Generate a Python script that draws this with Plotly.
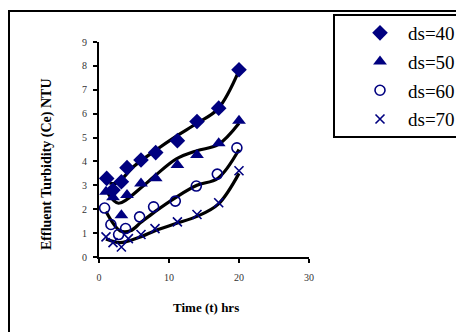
import plotly.graph_objects as go

# ---- data ----
t40 = [1.1, 2.0, 3.2, 4.0, 6.0, 8.1, 11.2, 14.0, 17.1, 20.0]
v40 = [3.29, 2.8, 3.15, 3.74, 4.06, 4.37, 4.87, 5.67, 6.23, 7.84]
t50 = [1.0, 2.0, 3.2, 4.0, 6.0, 8.1, 11.2, 14.0, 17.1, 20.0]
v50 = [2.73, 2.5, 1.75, 2.6, 3.08, 3.3, 3.85, 4.27, 4.76, 5.7]
t60 = [0.8, 1.7, 2.8, 3.8, 5.8, 7.8, 10.9, 13.9, 16.9, 19.7]
v60 = [2.05, 1.36, 0.94, 1.19, 1.68, 2.1, 2.34, 2.97, 3.47, 4.57]
t70 = [1.0, 2.0, 3.2, 4.2, 6.0, 8.0, 11.2, 14.0, 17.1, 20.0]
v70 = [0.84, 0.6, 0.42, 0.77, 0.94, 1.19, 1.47, 1.78, 2.27, 3.61]

# trend curves
ft40 = [1.5, 2.6, 5.0, 8.0, 11.0, 14.0, 17.0, 20.0]
fv40 = [3.1, 3.1, 3.8, 4.45, 5.05, 5.6, 6.2, 7.8]
ft50 = [1.3, 2.8, 6.0, 8.0, 11.0, 14.0, 17.0, 20.0]
fv50 = [2.65, 2.25, 2.9, 3.4, 4.1, 4.45, 4.7, 5.6]
ft60 = [1.0, 3.0, 4.5, 6.0, 8.0, 11.0, 14.0, 17.0, 20.0]
fv60 = [1.9, 1.1, 1.1, 1.45, 1.9, 2.5, 3.0, 3.3, 4.5]
ft70 = [1.0, 3.0, 6.0, 8.0, 11.0, 14.0, 17.0, 20.0]
fv70 = [0.75, 0.6, 0.85, 1.1, 1.4, 1.7, 2.2, 3.5]

names = ["ds=40", "ds=50", "ds=60", "ds=70"]
x_ticks = [0, 10, 20, 30]
y_ticks = [0, 1, 2, 3, 4, 5, 6, 7, 8, 9]

NAVY = "#000080"
fig = go.Figure()

for ft, fv in [(ft40, fv40), (ft50, fv50), (ft60, fv60), (ft70, fv70)]:
    fig.add_trace(go.Scatter(x=ft, y=fv, mode="lines", showlegend=False,
                             line=dict(color="black", width=3.2, shape="spline", smoothing=1.0),
                             hoverinfo="skip"))

markers = [
    dict(symbol="diamond", size=12, color=NAVY),
    dict(symbol="triangle-up", size=12, color=NAVY),
    dict(symbol="circle-open", size=10, color=NAVY, line=dict(width=1.6, color=NAVY)),
    dict(symbol="x-thin-open", size=9, color=NAVY, line=dict(width=1.6, color=NAVY)),
]
for (tt, vv), nm, mk in zip([(t40, v40), (t50, v50), (t60, v60), (t70, v70)], names, markers):
    fig.add_trace(go.Scatter(x=tt, y=vv, mode="markers", name=nm, marker=mk,
                             legendgroup=nm))

# page body has an 8px margin; figure coordinates = screen - 8
W, H = 456, 324
L, R, T, B = 91, 155, 34, 75
pw, ph = W - L - R, H - T - B

def px(x):  # x in figure pixels
    return (x - L) / pw

def py(y):  # y in figure pixels
    return (H - B - y) / ph

fig.update_layout(
    width=W, height=H,
    margin=dict(l=L, r=R, t=T, b=B, autoexpand=False),
    paper_bgcolor="white", plot_bgcolor="white",
    font=dict(family="Liberation Serif", color="black"),
    showlegend=True,
    legend=dict(x=px(344), y=py(6), xanchor="left", yanchor="top",
                bgcolor="rgba(0,0,0,0)", borderwidth=0,
                font=dict(size=19, family="Liberation Serif", color="black"),
                tracegroupgap=1, itemwidth=46),
    xaxis=dict(range=[0, 30], tickvals=x_ticks, showgrid=False, zeroline=False,
               showline=True, linecolor="black", linewidth=2,
               ticks="outside", ticklen=4, tickwidth=2, tickcolor="black",
               tickfont=dict(size=10, color="#333333", family="Liberation Serif"),
               ticklabelstandoff=6),
    yaxis=dict(range=[0, 9], tickvals=y_ticks, showgrid=False, zeroline=False,
               showline=True, linecolor="black", linewidth=2,
               ticks="outside", ticklen=4, tickwidth=2, tickcolor="black",
               tickfont=dict(size=10, color="#333333", family="Liberation Serif"),
               ticklabelstandoff=4),
    shapes=[
        dict(type="rect", xref="paper", yref="paper", x0=px(1), x1=px(470),
             y0=py(340), y1=py(3), line=dict(color="black", width=2), layer="below"),
        dict(type="rect", xref="paper", yref="paper", x0=px(326), x1=px(470),
             y0=py(129), y1=py(7), line=dict(color="black", width=2), layer="below"),
    ],
    annotations=[
        dict(text="<b>Time (t) hrs</b>", xref="paper", yref="paper", x=px(198), y=py(299),
             showarrow=False, font=dict(size=13, family="Liberation Serif", color="black"),
             xanchor="center", yanchor="middle"),
        dict(text="<b>Effluent Turbidity (Ce) NTU</b>", xref="paper", yref="paper",
             x=px(39), y=py(156), textangle=-90, showarrow=False,
             font=dict(size=14, family="Liberation Serif", color="black"),
             xanchor="center", yanchor="middle"),
    ],
)

fig.write_html("out.html")
